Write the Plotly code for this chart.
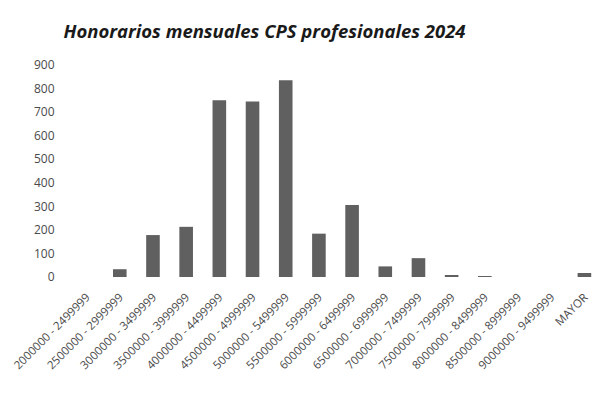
import plotly.graph_objects as go

categories = [
    "2000000 - 2499999", "2500000 - 2999999", "3000000 - 3499999", "3500000 - 3999999",
    "4000000 - 4499999", "4500000 - 4999999", "5000000 - 5499999", "5500000 - 5999999",
    "6000000 - 6499999", "6500000 - 6999999", "7000000 - 7499999", "7500000 - 7999999",
    "8000000 - 8499999", "8500000 - 8999999", "9000000 - 9499999", "MAYOR",
]
values = [0, 33, 178, 213, 750, 745, 835, 184, 306, 45, 80, 5, 3, 0, 0, 17]
y_ticks = [0, 100, 200, 300, 400, 500, 600, 700, 800, 900]

fig = go.Figure(go.Bar(
    x=categories, y=values,
    marker=dict(color="#606060", line=dict(width=0)),
))

fig.update_layout(
    width=602, height=412,
    paper_bgcolor="white", plot_bgcolor="white",
    margin=dict(l=62, r=9, t=57, b=143, autoexpand=False),
    bargap=0.59,
    showlegend=False,
    title=dict(
        text="<b><i>Honorarios mensuales CPS profesionales 2024</i></b>",
        x=256.5 / 602, xref="container", xanchor="center",
        y=1 - 24 / 412, yref="container", yanchor="middle",
        font=dict(family="Open Sans", size=18.5, color="#1a1a1a"),
    ),
    font=dict(family="Open Sans", color="#4a4a4a"),
)

fig.update_yaxes(
    range=[0, 900], tickvals=y_ticks, showgrid=False, zeroline=False,
    showline=False, tickfont=dict(size=12, color="#4a4a4a"),
    ticks="outside", ticklen=12, tickcolor="rgba(0,0,0,0)",
)
fig.update_xaxes(
    tickangle=-45, showgrid=False, showline=False,
    ticks="outside", ticklen=8, tickcolor="rgba(0,0,0,0)",
    tickfont=dict(size=11.5, color="#4a4a4a"),
)

fig.write_html("out.html")
